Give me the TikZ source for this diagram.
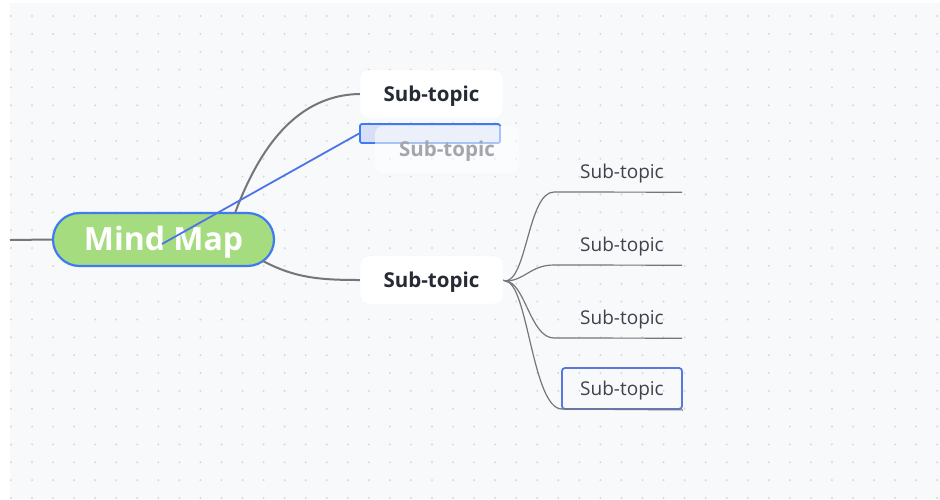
\documentclass[tikz,border=0pt]{standalone}
\usepackage{fontspec}
\setmainfont{Open Sans}
\definecolor{canvas}{HTML}{F8F9FB}
\definecolor{dotc}{HTML}{D6D8DD}
\definecolor{linec}{HTML}{75767B}
\definecolor{mmgreen}{HTML}{A6DC80}
\definecolor{mmblue}{HTML}{3D7CF0}
\definecolor{dragfill}{HTML}{D6DEF8}
\definecolor{txtdark}{HTML}{262A35}
\definecolor{txtleaf}{HTML}{3E424C}
\definecolor{ghosttxt}{HTML}{A4A6AC}
\definecolor{selblue}{HTML}{5878E0}
\definecolor{dragline}{HTML}{4C74E6}
\tikzset{
  rootnode/.style={draw=mmblue, line width=2.2pt, fill=mmgreen, rounded corners=26.5pt,
    minimum width=221pt, minimum height=53pt, inner sep=0pt, text height=22.8pt, text depth=0pt,
    text=white, font=\bfseries\fontsize{32}{32}\selectfont},
  subnode/.style={fill=white, draw=black!4, rounded corners=8pt, minimum width=143pt,
    minimum height=48pt, inner sep=0pt, text height=14.6pt, text depth=0pt,
    text=txtdark, font=\bfseries\fontsize{20.5}{20.5}\selectfont},
  leafnode/.style={minimum width=120pt, minimum height=41pt, inner sep=0pt,
    text height=13.6pt, text depth=0pt,
    text=txtleaf, font=\fontsize{19}{19}\selectfont},
  conn/.style={draw=linec, line width=2pt},
  leafconn/.style={draw=linec, line width=1.2pt},
}
\begin{document}
\begin{tikzpicture}[x=1pt,y=-1pt]
\useasboundingbox (0,0) rectangle (940,499);
\fill[white] (0,0) rectangle (940,499);
\fill[canvas] (10,3) rectangle (940,499);
\foreach \i in {0,...,44} {
  \foreach \j in {0,...,27} {
    \fill[dotc] ({11+21.05*\i},{16+17.85*\j}) circle (1.1);
  }
}
% nodes
\node[rootnode] (root) at (163.5,239.5) {Mind Map};
\coordinate (leftend) at (10,240);
\node[subnode] (s1) at (431.5,94) {Sub-topic};
\node[subnode] (s2) at (431.5,280) {Sub-topic};
\node[leafnode] (l1) at (622,171.5) {Sub-topic};
\node[leafnode] (l2) at (622,244.5) {Sub-topic};
\node[leafnode] (l3) at (622,317.5) {Sub-topic};
\node[leafnode, draw=selblue, line width=1.8pt, rounded corners=3pt] (l4) at (622,388.5) {Sub-topic};
% connectors
\draw[conn] (leftend) -- (root.west);
\coordinate (r1) at (235,213);
\coordinate (r2) at (263,261);
\draw[conn] (r1) .. controls (255,160) and (290,95) .. (s1.west);
\draw[conn] (r2) .. controls (295,278) and (320,280) .. (s2.west);
\coordinate (hub) at (505,281);
\draw[leafconn] (s2.east) -- (hub);
\draw[leafconn] (hub) .. controls (527,281) and (528,192) .. (554,192) -- (l1.south east);
\draw[leafconn] (hub) .. controls (525,281) and (530,265) .. (554,265) -- (l2.south east);
\draw[leafconn] (hub) .. controls (525,281) and (530,338) .. (554,338) -- (l3.south east);
\draw[leafconn] (hub) .. controls (528,281) and (532,409) .. (562,409) -- (l4.south east);
% drag indicator
\node[draw=mmblue, line width=1.8pt, fill=dragfill, rounded corners=2pt, minimum width=140pt,
  minimum height=19pt, inner sep=0pt] (drag) at (430,133.5) {};
\node[fill=white, fill opacity=0.55, rounded corners=8pt, minimum width=144pt, minimum height=47pt,
  inner sep=0pt, text height=14.6pt, text depth=0pt, text=ghosttxt, text opacity=1,
  font=\bfseries\fontsize{20.5}{20.5}\selectfont] (ghost) at (447,149.5) {Sub-topic};
\coordinate (dragstart) at (162,244);
\draw[draw=dragline, line width=1.8pt] (dragstart) -- (drag.west);
\end{tikzpicture}
\end{document}
